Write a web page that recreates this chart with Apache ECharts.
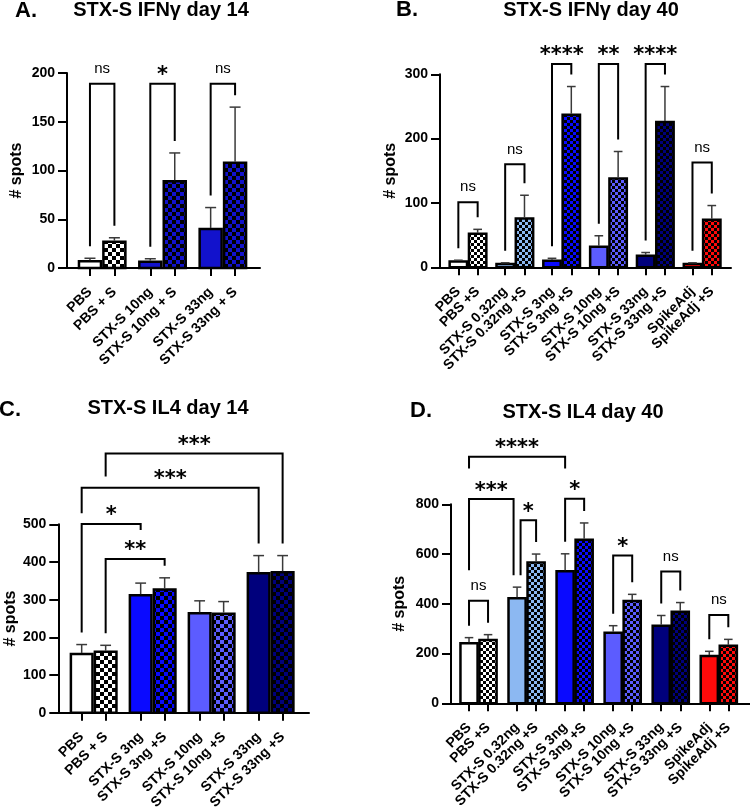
<!DOCTYPE html>
<html><head><meta charset="utf-8">
<script src="https://cdn.jsdelivr.net/npm/echarts@6/dist/echarts.min.js"></script>
<style>html,body{margin:0;padding:0;background:#fff}#c{width:750px;height:812px}</style>
</head><body><div id="c"></div>
<script>
// ---------- DATA ----------
// Panel A: STX-S IFNγ day 14
const aLabels = ['PBS','PBS + S','STX-S 10ng','STX-S 10ng + S','STX-S 33ng','STX-S 33ng + S'];
const aMeans  = [7, 27, 6.5, 89, 40, 108];
const aSD     = [3, 4, 3, 29, 22, 57];
// bracket: [fromBar, toBar, topValue, leftLegBottom|null, rightLegBottom|null, label]
const aBrackets = [[0,1,189,null,null,'ns'],[2,3,189,null,null,'*'],[4,5,189,null,null,'ns']];
const aTicks = [0,50,100,150,200];

// Panel B: STX-S IFNγ day 40
const bLabels = ['PBS','PBS +S','STX-S 0.32ng','STX-S 0.32ng +S','STX-S 3ng','STX-S 3ng +S',
                 'STX-S 10ng','STX-S 10ng +S','STX-S 33ng','STX-S 33ng +S','SpikeAdj','SpikeAdj +S'];
const bMeans  = [9, 52, 5, 76, 10, 237, 32, 138, 18, 226, 5, 74];
const bSD     = [2, 7, 2, 36, 4, 44, 17, 42, 5, 55, 2, 22];
const bBrackets = [[0,1,101,null,null,'ns'],[2,3,160,null,null,'ns'],[4,5,316,null,null,'****'],
                   [6,7,316,null,null,'**'],[8,9,316,null,null,'****'],[10,11,163,null,null,'ns']];
const bTicks = [0,100,200,300];

// Panel C: STX-S IL4 day 14
const cLabels = ['PBS','PBS + S','STX-S 3ng','STX-S 3ng +S','STX-S 10ng','STX-S 10ng +S','STX-S 33ng','STX-S 33ng +S'];
const cMeans  = [156, 162, 312, 327, 264, 263, 370, 373];
const cSD     = [25, 17, 32, 31, 33, 32, 47, 44];
const cBrackets = [[1,3,408,null,null,'**'],[0,2,501,null,485,'*'],[0,6,597,529,null,'***'],[1,7,688,627,null,'***']];
const cTicks = [0,100,200,300,400,500];

// Panel D: STX-S IL4 day 40
const dLabels = bLabels.slice();
const dMeans  = [241, 254, 422, 566, 531, 657, 284, 411, 312, 368, 190, 231];
const dSD     = [23, 22, 45, 34, 70, 68, 28, 27, 41, 37, 19, 26];
const dBrackets = [[0,1,412,null,null,'ns'],[0,2,821,535,null,'***'],[2,3,736,null,null,'*'],
                   [0,4,991,944,944,'****'],[4,5,822,null,null,'*'],[6,7,594,null,null,'*'],
                   [8,9,530,null,null,'ns'],[10,11,355,null,null,'ns']];
const dTicks = [0,200,400,600,800];

// ---------- STYLE / LAYOUT ----------
const FONT = 'Liberation Sans, Arial, Helvetica, sans-serif';
const groupColorsA = ['#ffffff','#1212cc','#1212cc'];
const groupColorsB = ['#ffffff','#8cb8f2','#0a0aff','#5c5cff','#00007c','#ff0a0a'];
const groupColorsC = ['#ffffff','#0a0aff','#5c5cff','#00007c'];
const groupColorsD = groupColorsB;

const panels = [
  {letter:'A.', title:'STX-S IFNγ day 14', labels:aLabels, means:aMeans, sd:aSD, brackets:aBrackets, ticks:aTicks, colors:groupColorsA,
   grid:{left:67, top:73, width:193, height:195}, step:2.47, xmin:-0.94, xmax:6.96, cell:4, nameGap:42,
   letterPos:[26,11], titlePos:[161,10]},
  {letter:'B.', title:'STX-S IFNγ day 40', labels:bLabels, means:bMeans, sd:bSD, brackets:bBrackets, ticks:bTicks, colors:groupColorsB,
   grid:{left:440, top:74.3, width:291, height:193}, step:2.425, xmin:-0.95, xmax:14.12, cell:3, nameGap:41,
   letterPos:[407,10], titlePos:[591,10]},
  {letter:'C.', title:'STX-S IL4 day 14', labels:cLabels, means:cMeans, sd:cSD, brackets:cBrackets, ticks:cTicks, colors:groupColorsC,
   grid:{left:58.3, top:524.3, width:250.7, height:190}, step:2.46, xmin:-0.975, xmax:9.48, cell:4, nameGap:40,
   letterPos:[10,410], titlePos:[168,408]},
  {letter:'D.', title:'STX-S IL4 day 40', labels:dLabels, means:dMeans, sd:dSD, brackets:dBrackets, ticks:dTicks, colors:groupColorsD,
   grid:{left:451, top:504.3, width:299, height:199}, step:2.526, xmin:-0.947, xmax:14.77, cell:3, nameGap:43,
   letterPos:[421,411], titlePos:[583,412]}
];

function checker(color, s){
  const c = document.createElement('canvas'); c.width = c.height = 2*s;
  const g = c.getContext('2d');
  g.fillStyle = color; g.fillRect(0,0,2*s,2*s);
  g.fillStyle = '#000'; g.fillRect(0,0,s,s); g.fillRect(s,s,s,s);
  return c;
}

const chart = echarts.init(document.getElementById('c'), null, {renderer:'canvas'});
const grids=[], xAxes=[], yAxes=[], series=[], graphics=[];

panels.forEach((P, pi) => {
  const pos = P.labels.map((_, i) => Math.floor(i/2)*P.step + (i%2));
  const fills = P.labels.map((_, i) => {
    const col = P.colors[Math.floor(i/2)];
    return (i%2) ? {image: checker(col, P.cell), repeat:'repeat'} : col;
  });
  const ymax = P.ticks[P.ticks.length-1];
  grids.push(Object.assign({containLabel:false}, P.grid));
  const labelFor = (v) => { let k = 0, best = 1e9; pos.forEach((p,i)=>{ if (Math.abs(p-v)<best){best=Math.abs(p-v);k=i;} }); return P.labels[k]; };
  const labelStyle = (vals) => ({show:true, customValues:vals, rotate:45, margin:22, color:'#000', fontWeight:'bold', fontSize:14,
      fontFamily:FONT, hideOverlap:false, showMinLabel:true, showMaxLabel:true, formatter:labelFor});
  // main x axis: line, all ticks, labels of plain groups
  xAxes.push({
    type:'value', gridIndex:pi, position:'bottom', min:P.xmin, max:P.xmax,
    axisLine:{show:true, onZero:false, lineStyle:{color:'#000', width:2}},
    axisTick:{show:true, customValues:pos, length:8, lineStyle:{color:'#000', width:2}},
    axisLabel:labelStyle(pos.filter((_, i) => i%2 === 0)),
    splitLine:{show:false}
  });
  // companion x axis: labels of "+S" bars
  xAxes.push({
    type:'value', gridIndex:pi, position:'bottom', offset:0, min:P.xmin, max:P.xmax,
    axisLine:{show:false, onZero:false}, axisTick:{show:false},
    axisLabel:labelStyle(pos.filter((_, i) => i%2 === 1)),
    splitLine:{show:false}
  });
  yAxes.push({
    type:'value', gridIndex:pi, min:0, max:ymax, interval:P.ticks[1]-P.ticks[0],
    axisLine:{show:true, onZero:false, lineStyle:{color:'#000', width:2}},
    axisTick:{show:true, length:9, lineStyle:{color:'#000', width:2}},
    axisLabel:{color:'#000', fontWeight:'bold', fontSize:14, fontFamily:FONT, margin:12, hideOverlap:false},
    splitLine:{show:false},
    name:'# spots', nameLocation:'middle', nameGap:P.nameGap,
    nameTextStyle:{color:'#000', fontWeight:'bold', fontSize:16, fontFamily:FONT}
  });
  const xi = 2*pi;

  // bars + error bars
  series.push({
    type:'custom', xAxisIndex:xi, yAxisIndex:pi, clip:false, silent:true, z:2,
    data: P.means.map((m, i) => [pos[i], m, P.sd[i], i]),
    encode:{x:0, y:1},
    renderItem:(params, api) => {
      const x = api.value(0), m = api.value(1), sd = api.value(2), i = api.value(3);
      const p0 = api.coord([x, 0]), p1 = api.coord([x, m]), pe = api.coord([x, m+sd]);
      const w = api.size([0.9, 0])[0];
      const cw = api.size([0.45, 0])[0];
      return {type:'group', children:[
        {type:'rect', shape:{x:p0[0]-w/2, y:p1[1], width:w, height:p0[1]-p1[1]},
         style:{fill:fills[i], stroke:'#000', lineWidth:2.5}},
        {type:'line', shape:{x1:p1[0], y1:p1[1]-1, x2:pe[0], y2:pe[1]}, style:{stroke:'#3a3a3a', lineWidth:1.5}},
        {type:'line', shape:{x1:pe[0]-cw/2, y1:pe[1], x2:pe[0]+cw/2, y2:pe[1]}, style:{stroke:'#3a3a3a', lineWidth:1.5}}
      ]};
    }
  });

  // brackets
  const errTop = P.means.map((m,i)=>m+P.sd[i]);
  const legRange = (b, side) => { const bar = side ? b[1] : b[0]; const bot = (side ? b[4] : b[3]); return [bot!=null?bot:errTop[bar], b[2]]; };
  const shifts = P.brackets.map(() => [0,0]);
  P.brackets.forEach((b1, i1) => P.brackets.forEach((b2, i2) => {
    if (i1 !== i2 && b1[1] === b2[0]) {
      const r1 = legRange(b1, 1), r2 = legRange(b2, 0);
      if (r1[0] < r2[1] && r2[0] < r1[1]) { shifts[i1][1] = -3.5; shifts[i2][0] = 3.5; }
    }
  }));
  series.push({
    type:'custom', xAxisIndex:xi, yAxisIndex:pi, clip:false, silent:true, z:3,
    data: P.brackets.map((b) => [pos[b[0]], b[2]]),
    encode:{x:0, y:1},
    renderItem:(params, api) => {
      const b = P.brackets[params.dataIndex], sh = shifts[params.dataIndex];
      const top = api.coord([pos[b[0]], b[2]]);
      const xl = api.coord([pos[b[0]], 0])[0] + sh[0];
      const xr = api.coord([pos[b[1]], 0])[0] + sh[1];
      const yl = b[3] != null ? api.coord([0, b[3]])[1] : api.coord([0, errTop[b[0]]])[1] - 12;
      const yr = b[4] != null ? api.coord([0, b[4]])[1] : api.coord([0, errTop[b[1]]])[1] - 12;
      const isNs = b[5] === 'ns';
      return {type:'group', children:[
        {type:'polyline', shape:{points:[[xl, yl],[xl, top[1]],[xr, top[1]],[xr, yr]]},
         style:{stroke:'#000', lineWidth:2, fill:null, lineJoin:'miter'}},
        {type:'text', x:(xl+xr)/2, y: top[1] - (isNs ? 15 : 8),
         style:{text:b[5], fill:'#000', align:'center', verticalAlign:'middle',
                font: isNs ? ('15px ' + FONT) : ('bold 21px DejaVu Sans, sans-serif')}}
      ]};
    }
  });

  graphics.push({type:'text', x:P.letterPos[0], y:P.letterPos[1],
    style:{text:P.letter, fill:'#000', align:'center', verticalAlign:'middle', font:'bold 22px ' + FONT}});
  graphics.push({type:'text', x:P.titlePos[0], y:P.titlePos[1],
    style:{text:P.title, fill:'#000', align:'center', verticalAlign:'middle', font:'bold 20px ' + FONT}});
});

chart.setOption({
  animation:false,
  backgroundColor:'#fff',
  grid:grids, xAxis:xAxes, yAxis:yAxes, series:series, graphic:graphics
});
</script></body></html>
